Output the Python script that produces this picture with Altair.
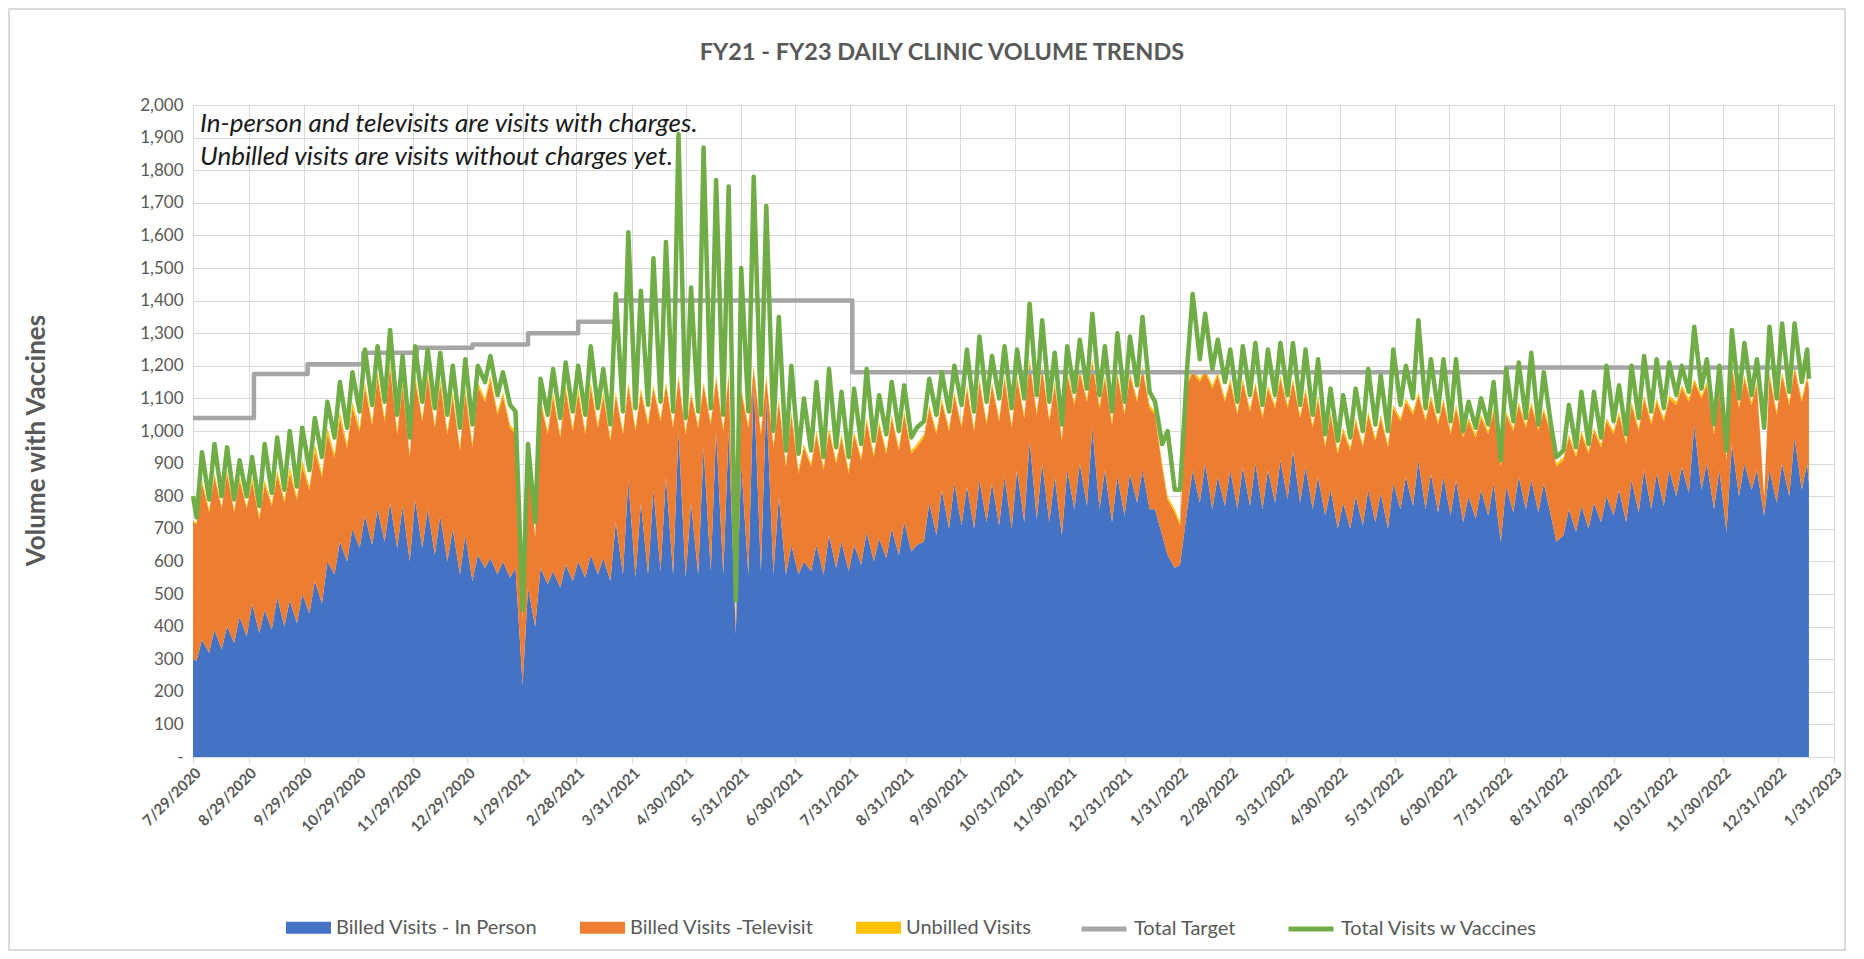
import altair as alt
import pandas as pd

# ---------------- data ----------------
# Points: start day, then for each week a Friday (low) and Monday (high) reading, then the last day.
START_DATE = "2020-07-29"
FIRST_FRIDAY = "2020-07-31"
N_WEEKS = 129
END_DATE = "2023-01-17"

IN_PERSON = [
    300,
    295, 360, 320, 390, 330, 400, 350, 430,
    370, 470, 380, 450, 390, 490, 400, 480,
    410, 500, 440, 540, 470, 600, 560, 660,
    600, 700, 640, 740, 650, 760, 660, 780,
    640, 770, 600, 790, 640, 760, 620, 740,
    600, 700, 560, 680, 540, 620, 580, 610,
    560, 600, 550, 580, 220, 520, 400, 580,
    530, 570, 520, 590, 540, 600, 550, 620,
    560, 610, 540, 720, 560, 850, 550, 780,
    560, 820, 570, 860, 560, 1000, 550, 780,
    560, 950, 570, 1000, 560, 1000, 380, 900,
    560, 1150, 570, 1100, 560, 800, 560, 650,
    560, 600, 570, 650, 560, 680, 580, 660,
    570, 650, 590, 690, 600, 670, 610, 700,
    620, 720, 630, 650, 660, 780, 680, 820,
    700, 840, 710, 830, 700, 850, 720, 840,
    710, 860, 700, 880, 720, 970, 730, 900,
    720, 860, 680, 880, 760, 900, 770, 1010,
    760, 880, 720, 860, 740, 870, 780, 880,
    760, 760, 680, 620, 580, 590, 760, 880,
    780, 900, 760, 860, 770, 880, 760, 890,
    770, 900, 760, 880, 780, 910, 790, 940,
    780, 890, 760, 860, 740, 820, 700, 780,
    700, 800, 710, 820, 720, 810, 700, 840,
    760, 860, 770, 910, 760, 870, 750, 860,
    740, 850, 720, 800, 730, 820, 740, 840,
    660, 830, 750, 860, 760, 850, 750, 840,
    740, 660, 680, 760, 690, 770, 700, 780,
    720, 800, 740, 820, 720, 850, 750, 880,
    760, 870, 770, 880, 800, 890, 810, 1020,
    820, 900, 760, 880, 690, 960, 800, 900,
    820, 880, 740, 880, 780, 900, 800, 980,
    820, 900,
    840,
]

TELEVISIT = [
    420,
    420, 480, 432, 470, 432, 470, 402, 418,
    392, 375, 350, 385, 380, 375, 380, 390,
    380, 390, 378, 400, 388, 390, 358, 380,
    348, 370, 358, 395, 368, 405, 368, 415,
    350, 365, 320, 365, 390, 405, 390, 405,
    390, 405, 380, 435, 410, 515, 510, 545,
    490, 505, 460, 410, 205, 370, 275, 505,
    460, 535, 460, 535, 460, 515, 440, 515,
    450, 495, 430, 390, 430, 290, 450, 340,
    460, 310, 460, 280, 450, 160, 440, 330,
    450, 190, 450, 160, 440, 170, 35, 220,
    450, 40, 420, 60, 390, 290, 330, 400,
    310, 350, 320, 340, 320, 320, 320, 320,
    300, 340, 320, 340, 320, 350, 320, 340,
    320, 330, 300, 300, 320, 290, 310, 270,
    300, 270, 300, 300, 300, 300, 300, 300,
    320, 300, 310, 280, 320, 240, 320, 290,
    310, 280, 290, 290, 320, 280, 320, 200,
    310, 280, 300, 310, 310, 300, 310, 310,
    310, 290, 210, 170, 170, 120, 380, 300,
    370, 280, 370, 310, 320, 270, 290, 260,
    290, 240, 280, 250, 290, 250, 280, 210,
    260, 230, 250, 240, 210, 230, 230, 220,
    240, 230, 240, 230, 250, 230, 250, 230,
    270, 230, 280, 200, 270, 230, 270, 230,
    250, 220, 260, 230, 250, 220, 250, 220,
    230, 220, 250, 220, 250, 230, 250, 220,
    250, 230, 230, 220, 230, 220, 230, 220,
    230, 230, 250, 230, 240, 230, 250, 220,
    260, 220, 260, 220, 280, 240, 280, 130,
    280, 240, 230, 240, 220, 230, 270, 260,
    260, 260, 55, 290, 270, 270, 280, 210,
    270, 260,
    290,
]

UNBILLED = [
    5,
    5, 10, 8, 10, 8, 10, 8, 12,
    8, 15, 10, 15, 10, 15, 10, 20,
    10, 20, 12, 20, 12, 20, 12, 20,
    12, 20, 12, 15, 12, 15, 12, 15,
    10, 15, 10, 15, 10, 15, 10, 15,
    10, 15, 10, 15, 10, 15, 10, 15,
    10, 15, 10, 10, 5, 10, 5, 15,
    10, 15, 10, 15, 10, 15, 10, 15,
    10, 15, 10, 10, 10, 10, 10, 10,
    10, 10, 10, 10, 10, 10, 10, 10,
    10, 10, 10, 10, 10, 10, 5, 10,
    10, 10, 10, 10, 10, 10, 10, 10,
    10, 10, 10, 10, 10, 10, 10, 10,
    10, 10, 10, 10, 10, 10, 10, 10,
    10, 10, 10, 10, 10, 10, 10, 10,
    10, 10, 10, 10, 10, 10, 10, 10,
    10, 10, 10, 10, 10, 10, 10, 10,
    10, 10, 10, 10, 10, 10, 10, 10,
    10, 10, 10, 10, 10, 10, 10, 10,
    10, 10, 10, 10, 10, 10, 10, 10,
    10, 10, 10, 10, 10, 10, 10, 10,
    10, 10, 10, 10, 10, 10, 10, 10,
    10, 10, 10, 10, 10, 10, 10, 10,
    10, 10, 10, 10, 10, 10, 10, 10,
    10, 10, 10, 10, 10, 10, 10, 10,
    10, 10, 10, 10, 10, 10, 10, 10,
    10, 10, 10, 10, 10, 10, 10, 10,
    10, 10, 10, 10, 10, 10, 10, 10,
    10, 10, 10, 10, 10, 10, 10, 10,
    10, 10, 10, 10, 10, 10, 10, 10,
    10, 10, 10, 10, 10, 10, 10, 10,
    10, 10, 5, 10, 10, 10, 10, 10,
    10, 10,
    10,
]

TOTAL_W_VACCINES = [
    800,
    735, 935, 790, 960, 800, 950, 790, 910,
    800, 920, 770, 960, 810, 980, 820, 1000,
    830, 1010, 880, 1040, 920, 1090, 980, 1150,
    1010, 1180, 1060, 1250, 1080, 1260, 1090, 1310,
    1050, 1230, 980, 1260, 1090, 1250, 1070, 1240,
    1050, 1200, 1010, 1220, 1020, 1200, 1150, 1230,
    1110, 1180, 1080, 1060, 450, 960, 720, 1160,
    1050, 1190, 1040, 1210, 1060, 1200, 1050, 1260,
    1070, 1190, 1020, 1420, 1060, 1610, 1070, 1430,
    1080, 1530, 1090, 1580, 1060, 1910, 1040, 1440,
    1060, 1870, 1070, 1770, 1050, 1750, 480, 1500,
    1060, 1780, 1050, 1690, 1000, 1350, 940, 1200,
    930, 1100, 940, 1150, 920, 1190, 950, 1120,
    920, 1130, 960, 1190, 970, 1110, 990, 1150,
    1000, 1140, 980, 1010, 1030, 1160, 1050, 1180,
    1060, 1200, 1080, 1250, 1060, 1290, 1090, 1230,
    1100, 1260, 1070, 1250, 1100, 1390, 1110, 1340,
    1090, 1240, 1020, 1260, 1120, 1280, 1130, 1360,
    1110, 1260, 1060, 1300, 1090, 1290, 1140, 1350,
    1120, 1090, 960, 1000, 820, 820, 1200, 1420,
    1220, 1360, 1190, 1280, 1150, 1250, 1090, 1260,
    1110, 1270, 1080, 1250, 1110, 1270, 1110, 1270,
    1080, 1250, 1050, 1220, 990, 1130, 970, 1110,
    980, 1130, 1000, 1190, 1020, 1170, 1000, 1250,
    1080, 1200, 1100, 1340, 1070, 1220, 1060, 1220,
    1030, 1220, 1000, 1090, 1010, 1100, 1020, 1150,
    910, 1190, 1030, 1210, 1040, 1240, 1020, 1180,
    1020, 920, 940, 1080, 950, 1120, 960, 1120,
    980, 1200, 1030, 1140, 990, 1200, 1040, 1230,
    1060, 1220, 1070, 1210, 1110, 1200, 1120, 1320,
    1130, 1220, 1020, 1200, 940, 1310, 1100, 1270,
    1110, 1220, 1010, 1320, 1100, 1330, 1120, 1330,
    1150, 1250,
    1160,
]

TARGET_DATES = ["2020-07-29", "2020-09-01", "2020-10-01", "2020-11-01", "2020-12-01",
                "2021-01-01", "2021-02-01", "2021-03-01", "2021-03-22", "2021-08-01",
                "2022-08-01", "2023-01-17"]
TARGET_VALUES = [1040, 1175, 1205, 1240, 1255, 1265, 1300, 1335, 1400, 1180, 1195, 1195]

TICK_DATES = ["2020-07-29", "2020-08-29", "2020-09-29", "2020-10-29", "2020-11-29",
              "2020-12-29", "2021-01-29", "2021-02-28", "2021-03-31", "2021-04-30",
              "2021-05-31", "2021-06-30", "2021-07-31", "2021-08-31", "2021-09-30",
              "2021-10-31", "2021-11-30", "2021-12-31", "2022-01-31", "2022-02-28",
              "2022-03-31", "2022-04-30", "2022-05-31", "2022-06-30", "2022-07-31",
              "2022-08-31", "2022-09-30", "2022-10-31", "2022-11-30", "2022-12-31",
              "2023-01-31"]
Y_TICKS = list(range(0, 2001, 100))

AREA_SERIES = ["Billed Visits - In Person", "Billed Visits -Televisit", "Unbilled Visits"]
AREA_COLORS = ["#4472C4", "#ED7D31", "#FFC000"]
LINE_SERIES = ["Total Target", "Total Visits w Vaccines"]
LINE_COLORS = ["#A5A5A5", "#70AD47"]

TITLE = "FY21 - FY23 DAILY CLINIC VOLUME TRENDS"
Y_TITLE = "Volume with Vaccines"
NOTE_LINES = ["In-person and televisits are visits with charges.",
              "Unbilled visits are visits without charges yet."]

# ---------------- build tables ----------------
dates = [pd.Timestamp(START_DATE)]
for k in range(N_WEEKS):
    dates.append(pd.Timestamp(FIRST_FRIDAY) + pd.Timedelta(days=7 * k))
    dates.append(pd.Timestamp(FIRST_FRIDAY) + pd.Timedelta(days=7 * k + 3))
dates.append(pd.Timestamp(END_DATE))
date_str = [d.strftime("%Y-%m-%d") for d in dates]
n = len(date_str)
for nm, arr in [("in", IN_PERSON), ("tele", TELEVISIT), ("unb", UNBILLED), ("tot", TOTAL_W_VACCINES)]:
    assert len(arr) == n, (nm, len(arr), n)

area_rows = []
for i in range(n):
    for o, (s, arr) in enumerate(zip(AREA_SERIES, [IN_PERSON, TELEVISIT, UNBILLED])):
        area_rows.append({"date": date_str[i], "series": s, "value": arr[i], "order": o})
area_df = pd.DataFrame(area_rows)
total_df = pd.DataFrame({"date": date_str, "line": LINE_SERIES[1], "value": TOTAL_W_VACCINES})
target_df = pd.DataFrame({"date": TARGET_DATES, "line": LINE_SERIES[0], "value": TARGET_VALUES})


def ms(s):
    return int(pd.Timestamp(s).value // 10**6)


W, H = 1641, 652
FONT = "Lato"
GREY_TXT = "#595959"
GRID = "#d9d9d9"
NB = "\u00a0"

x_scale = alt.Scale(type="utc", domain=[ms(TICK_DATES[0]), ms(TICK_DATES[-1])])
y_scale = alt.Scale(domain=[0, 2000], nice=False)
fill_scale = alt.Scale(domain=AREA_SERIES, range=AREA_COLORS)
stroke_scale = alt.Scale(domain=LINE_SERIES, range=LINE_COLORS)

x_axis = alt.Axis(values=[ms(d) for d in TICK_DATES],
                  labelExpr="utcFormat(datum.value, '%-m/%-d/%Y')",
                  labelAngle=-45, labelAlign="right", labelBaseline="top",
                  labelFont=FONT, labelFontSize=15, labelFontWeight="bold", labelColor=GREY_TXT,
                  labelPadding=2, labelOverlap=False, labelFlush=False, labelBound=False,
                  grid=True, gridColor=GRID, gridWidth=1,
                  domainColor=GRID, tickColor=GRID, tickSize=6, title=None)
y_axis = alt.Axis(values=Y_TICKS, tickCount=len(Y_TICKS),
                  labelExpr="datum.value == 0 ? '-" + NB * 5 + "' : format(datum.value, ',')",
                  labelFont=FONT, labelFontSize=17, labelColor=GREY_TXT, labelPadding=10,
                  labelOverlap=False, labelFlush=False, labelBound=False, labelSeparation=0,
                  grid=True, gridColor=GRID, gridWidth=1, domain=False, ticks=False,
                  title=Y_TITLE, titleFont=FONT, titleFontSize=26, titleFontWeight="bold",
                  titleColor=GREY_TXT, titleX=-157, titleY=335, titleBaseline="middle")

area_legend = alt.Legend(
    orient="none", legendX=93, legendY=800, direction="horizontal", title=None,
    symbolType="M-1,-0.27H1V0.27H-1Z", symbolSize=2025, symbolStrokeWidth=0, symbolOpacity=1,
    labelFont=FONT, labelFontSize=20, labelColor=GREY_TXT, labelOffset=5, labelLimit=500,
    columnPadding=42,
)
line_legend = alt.Legend(
    orient="none", legendX=886, legendY=799, direction="horizontal", title=None,
    symbolType="stroke", symbolSize=2025, symbolStrokeWidth=5, symbolOpacity=1,
    labelFont=FONT, labelFontSize=20, labelColor=GREY_TXT, labelOffset=5, labelLimit=500,
    columnPadding=42,
)

one = pd.DataFrame({"k": [0]})

frame = alt.Chart(one).mark_rect(fillOpacity=0, stroke="#d0d0d0", strokeWidth=1.5).encode(
    x=alt.value(-184), x2=alt.value(1652), y=alt.value(-96), y2=alt.value(845))

areas = alt.Chart(area_df).mark_area(opacity=1, interpolate="linear").encode(
    x=alt.X("date:T", scale=x_scale, axis=x_axis),
    y=alt.Y("value:Q", stack="zero", scale=y_scale, axis=y_axis),
    color=alt.Color("series:N", scale=fill_scale, legend=area_legend),
    order=alt.Order("order:Q", sort="ascending"),
)

target = alt.Chart(target_df).mark_line(interpolate="step-after", strokeWidth=4.5, strokeJoin="round").encode(
    x=alt.X("date:T", scale=x_scale, axis=x_axis),
    y=alt.Y("value:Q", scale=y_scale, axis=y_axis),
    stroke=alt.Stroke("line:N", scale=stroke_scale, legend=line_legend),
)

total = alt.Chart(total_df).mark_line(strokeWidth=4.5, strokeJoin="round").encode(
    x=alt.X("date:T", scale=x_scale, axis=x_axis),
    y=alt.Y("value:Q", scale=y_scale, axis=y_axis),
    stroke=alt.Stroke("line:N", scale=stroke_scale, legend=line_legend),
)

notes = [
    alt.Chart(one).mark_text(align="left", baseline="middle", font=FONT, fontSize=26,
                             fontStyle="italic", color="#1a1a1a").encode(
        x=alt.value(7), y=alt.value(yy), text=alt.value(line))
    for line, yy in zip(NOTE_LINES, [19, 52])
]

title = alt.Chart(one).mark_text(align="center", baseline="middle", font=FONT, fontSize=23.5,
                                 fontWeight="bold", color=GREY_TXT).encode(
    x=alt.value(749), y=alt.value(-52), text=alt.value(TITLE))

chart = alt.layer(frame, areas, target, total, *notes, title).properties(
    width=W, height=H,
    autosize=alt.AutoSizeParams(type="none"),
    padding={"left": 185, "top": 97, "right": 15, "bottom": 194},
).configure_view(strokeWidth=0).configure_axis(labelOverlap=False).configure(
    font=FONT, background="white")

chart.save("out.html", embed_options={"renderer": "svg", "actions": False})
